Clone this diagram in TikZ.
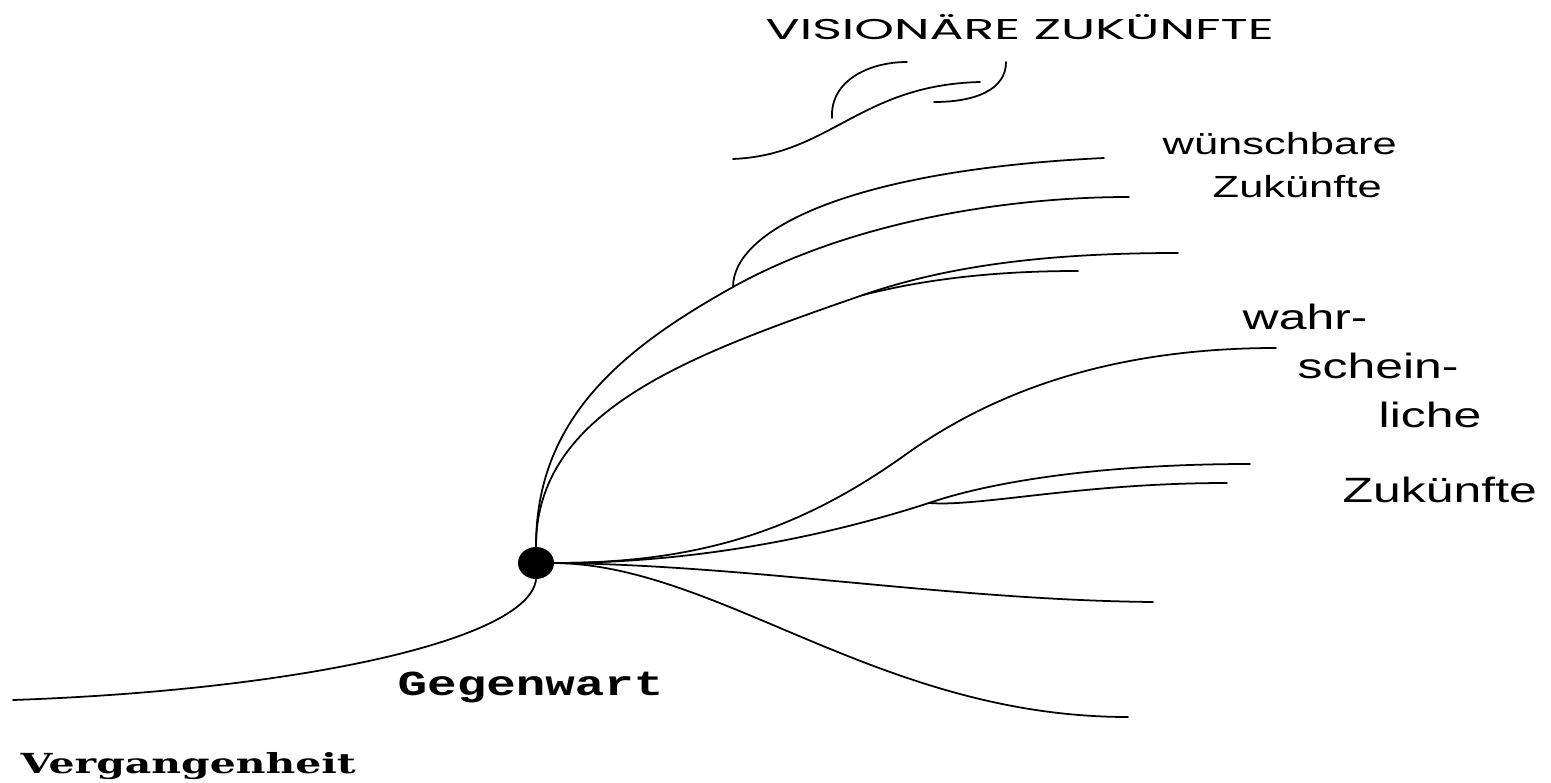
\documentclass[tikz,border=0pt]{standalone}
\usepackage{graphicx}
\usepackage{fontspec}
\setmainfont{Liberation Sans}
\newfontfamily\titlefont{Poppins}
\newfontfamily\nowfont{Liberation Mono}
\newfontfamily\pastfont{DejaVu Serif}
\usetikzlibrary{shapes.geometric}
\newcommand{\widetext}[1]{\scalebox{1.42}[1]{#1}}
\tikzset{
  branch/.style={line width=0.5pt, line cap=round},
  dot/.style={ellipse, fill, inner sep=0pt, minimum width=0.36cm, minimum height=0.32cm},
  lbl/.style={inner sep=0pt, anchor=base west}
}

\begin{document}
\begin{tikzpicture}
\useasboundingbox (0,0) rectangle (15.51,7.82);

\node[dot] (now) at (5.36,2.19) {};

\coordinate (past) at (0.13,0.82);
\coordinate (j1) at (7.33,4.95);
\coordinate (j2) at (8.63,4.87);
\coordinate (j3) at (9.29,2.79);
\coordinate (m1) at (9.05,3.27);
\coordinate (w1) at (11.04,6.24);
\coordinate (w2) at (11.29,5.85);
\coordinate (w3) at (11.78,5.29);
\coordinate (w4) at (10.78,5.11);
\coordinate (p1) at (12.76,4.34);
\coordinate (p2) at (12.50,3.18);
\coordinate (p3) at (12.27,2.99);
\coordinate (p4) at (11.53,1.80);
\coordinate (p5) at (11.28,0.65);
\coordinate (v1a) at (7.33,6.23);
\coordinate (v1b) at (9.80,7.00);
\coordinate (v2a) at (8.32,6.64);
\coordinate (v2b) at (9.07,7.20);
\coordinate (v3a) at (10.06,7.20);
\coordinate (v3b) at (9.34,6.80);

\draw[branch] (past) .. controls (3.00,0.92) and (5.28,1.42) .. (now.south);

\draw[branch] (now.north) .. controls (5.36,3.62) and (6.20,4.32) .. (j1)
  .. controls (8.46,5.58) and (10.00,5.85) .. (w2);
\draw[branch] (j1) .. controls (7.33,5.52) and (8.50,6.12) .. (w1);
\draw[branch] (now.north) .. controls (5.36,3.72) and (6.90,4.27) .. (j2);
\draw[branch] (j2) .. controls (9.50,5.17) and (10.50,5.29) .. (w3);
\draw[branch] (j2) .. controls (9.30,5.04) and (10.00,5.11) .. (w4);

\draw[branch] (now.east) .. controls (7.00,2.19) and (8.00,2.52) .. (m1)
  .. controls (10.00,3.95) and (11.20,4.34) .. (p1);
\draw[branch] (now.east) .. controls (7.00,2.19) and (8.30,2.47) .. (j3);
\draw[branch] (j3) .. controls (9.90,3.00) and (11.00,3.18) .. (p2);
\draw[branch] (j3) .. controls (9.80,2.75) and (10.80,2.99) .. (p3);
\draw[branch] (now.east) .. controls (7.50,2.17) and (9.50,1.82) .. (p4);
\draw[branch] (now.east) .. controls (7.20,2.17) and (8.80,0.65) .. (p5);

\draw[branch] (v1a) .. controls (8.30,6.27) and (8.60,6.97) .. (v1b);
\draw[branch] (v2a) .. controls (8.30,7.02) and (8.70,7.20) .. (v2b);
\draw[branch] (v3a) .. controls (10.06,6.92) and (9.75,6.80) .. (v3b);

\node[lbl] (vision) at (7.65,7.42) {\resizebox{5.08cm}{0.25cm}{\titlefont VISIONÄRE ZUKÜNFTE}};
\node[lbl] (wish1) at (11.62,6.27) {\widetext{\fontsize{8.7}{10}\selectfont wünschbare}};
\node[lbl] (wish2) at (12.12,5.84) {\widetext{\fontsize{8.7}{10}\selectfont Zukünfte}};
\node[lbl] (prob1) at (12.42,4.52) {\widetext{\fontsize{10}{12}\selectfont wahr-}};
\node[lbl] (prob2) at (12.97,4.04) {\widetext{\fontsize{10}{12}\selectfont schein-}};
\node[lbl] (prob3) at (13.78,3.55) {\widetext{\fontsize{10}{12}\selectfont liche}};
\node[lbl] (prob4) at (13.42,2.80) {\widetext{\fontsize{10}{12}\selectfont Zukünfte}};
\node[lbl] (present) at (3.97,0.87) {\scalebox{1.40}[1]{\fontsize{10}{12}\selectfont\nowfont\bfseries Gegenwart}};
\node[lbl] (pastlbl) at (0.20,0.09) {\resizebox{3.35cm}{0.21cm}{\pastfont\bfseries Vergangenheit}};
\end{tikzpicture}
\end{document}
